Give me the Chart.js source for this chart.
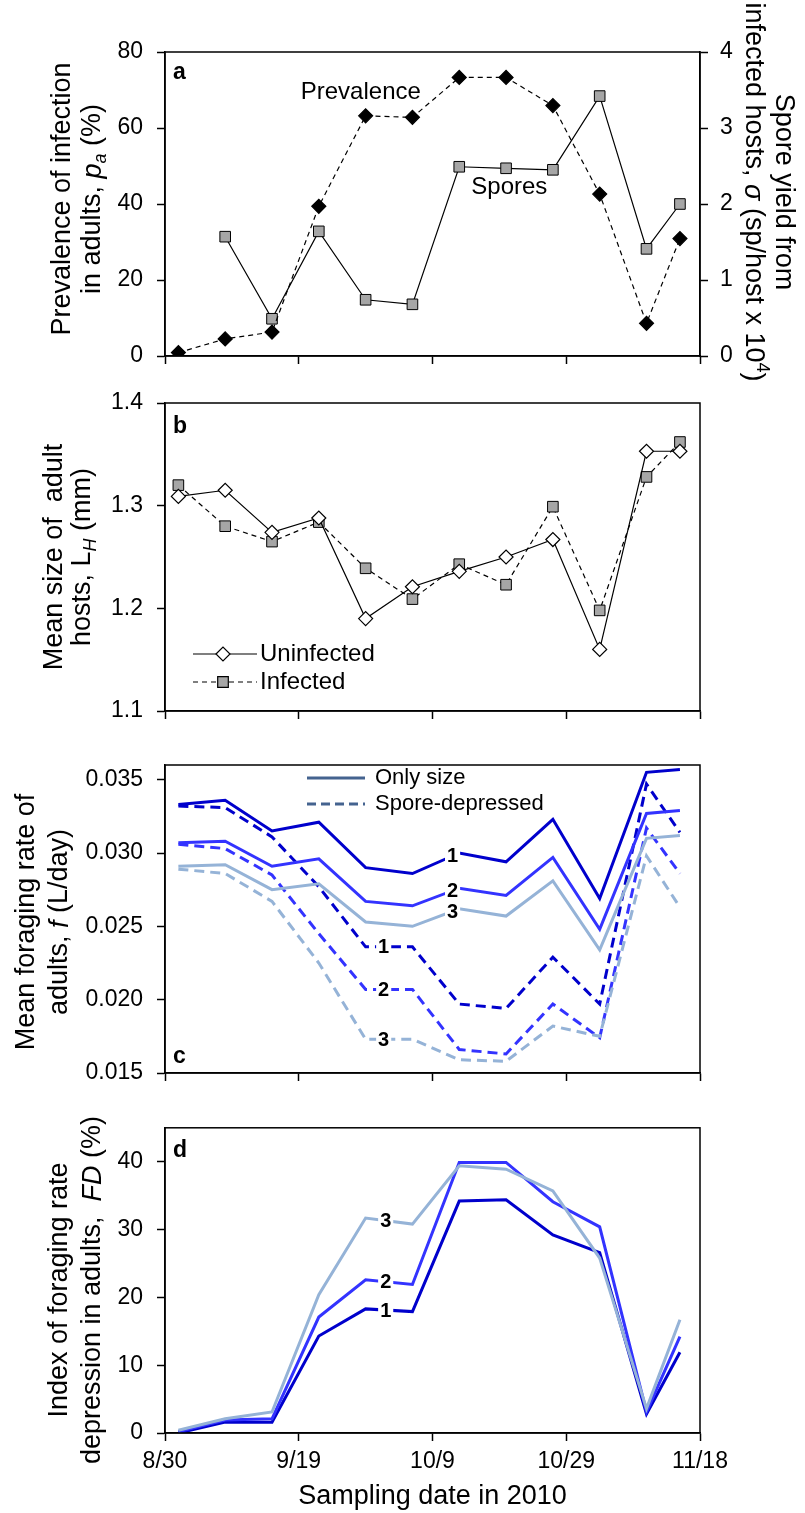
<!DOCTYPE html>
<html>
<head>
<meta charset="utf-8">
<script src="https://cdn.jsdelivr.net/npm/chart.js@4.4.1/dist/chart.umd.min.js"></script>
<style>
  body { margin: 0; background: #fff; width: 805px; height: 1513px; position: relative; overflow: hidden; }
  .panel { position: absolute; left: 0; width: 805px; }
  canvas { display: block; }
</style>
</head>
<body>
<div class="panel" style="top:0px;height:390px"><canvas id="chartA" width="805" height="390"></canvas></div>
<div class="panel" style="top:370px;height:370px"><canvas id="chartB" width="805" height="370"></canvas></div>
<div class="panel" style="top:730px;height:373px"><canvas id="chartC" width="805" height="373"></canvas></div>
<div class="panel" style="top:1100px;height:413px"><canvas id="chartD" width="805" height="413"></canvas></div>

<script>
// sampling dates, as days after 8/30/2010
const sampleDays = [2, 9, 16, 23, 30, 37, 44, 51, 58, 65, 72, 77];
const dateTicks = [0, 20, 40, 60, 80];
const dateLabels = ["8/30", "9/19", "10/9", "10/29", "11/18"];

// panel a
const prevalence = [0.9, 4.5, 6.3, 39.4, 63.2, 62.8, 73.3, 73.3, 65.9, 42.6, 8.6, 30.9];
const spores = [null, 1.57, 0.49, 1.64, 0.74, 0.68, 2.49, 2.47, 2.45, 3.42, 1.41, 2.0];
const prevTicks = [0, 20, 40, 60, 80];
const sporeTicks = [0, 1, 2, 3, 4];

// panel b
const uninfected = [1.309, 1.315, 1.274, 1.288, 1.190, 1.221, 1.236, 1.250, 1.267, 1.160, 1.353, 1.353];
const infected = [1.320, 1.280, 1.265, 1.284, 1.239, 1.209, 1.243, 1.223, 1.299, 1.198, 1.328, 1.362];
const sizeTicks = [1.1, 1.2, 1.3, 1.4];

// panel c
const onlySize1 = [0.0333, 0.0336, 0.0315, 0.0321, 0.0290, 0.0286, 0.0300, 0.0294, 0.0323, 0.0269, 0.0355, 0.0357];
const onlySize2 = [0.0307, 0.0308, 0.0291, 0.0296, 0.0267, 0.0264, 0.0276, 0.0271, 0.0297, 0.0248, 0.0327, 0.0329];
const onlySize3 = [0.0291, 0.0292, 0.0275, 0.0279, 0.0253, 0.0250, 0.0262, 0.0257, 0.0281, 0.0234, 0.0310, 0.0312];
const sporeDep1 = [0.0332, 0.0331, 0.0311, 0.0277, 0.0236, 0.0236, 0.0197, 0.0194, 0.0229, 0.0197, 0.0347, 0.0314];
const sporeDep2 = [0.0306, 0.0303, 0.0285, 0.0245, 0.0207, 0.0207, 0.0166, 0.0163, 0.0197, 0.0174, 0.0317, 0.0286];
const sporeDep3 = [0.0289, 0.0286, 0.0267, 0.0225, 0.0173, 0.0173, 0.0159, 0.0158, 0.0182, 0.0175, 0.0298, 0.0263];
const rateTicks = [0.015, 0.020, 0.025, 0.030, 0.035];

// panel d
const fd1 = [0, 1.6, 1.6, 14.3, 18.3, 17.9, 34.2, 34.4, 29.2, 26.6, 2.8, 11.9];
const fd2 = [0.2, 1.9, 2.1, 17.1, 22.6, 21.9, 39.9, 39.9, 34.1, 30.4, 3.1, 14.2];
const fd3 = [0.4, 2.1, 3.1, 20.4, 31.7, 30.8, 39.4, 38.9, 35.7, 25.8, 3.6, 16.7];
const fdTicks = [0, 10, 20, 30, 40];

const FONT = "'Liberation Sans', Arial, sans-serif";
const DARK = "#0000CC";
const MID = "#3333FF";
const LIGHT = "#95B3D7";
const LEGEND_BLUE = "#44638F";
const TICK_SIZE = 23;
const TITLE_SIZE = 27;

Chart.defaults.font.family = FONT;
Chart.defaults.color = "#000";
Chart.defaults.animation = false;
Chart.defaults.devicePixelRatio = 1;

function pts(arr) {
  return sampleDays.map((d, i) => ({ x: d, y: arr[i] }));
}

function valueAt(arr, day) {
  for (let i = 0; i < sampleDays.length - 1; i++) {
    if (day >= sampleDays[i] && day <= sampleDays[i + 1]) {
      const t = (day - sampleDays[i]) / (sampleDays[i + 1] - sampleDays[i]);
      return arr[i] + t * (arr[i + 1] - arr[i]);
    }
  }
  return arr[arr.length - 1];
}

// text with italic / sub / sup pieces, centred on (x, y)
function drawRich(ctx, parts, x, y, angle, size) {
  ctx.save();
  ctx.translate(x, y);
  ctx.rotate(angle);
  ctx.textBaseline = "middle";
  ctx.textAlign = "left";
  ctx.fillStyle = "#000";
  const items = parts.map(p => (typeof p === "string" ? { t: p } : p));
  const fontOf = p => (p.i ? "italic " : "") + ((p.sub || p.sup) ? Math.round(size * 0.68) : size) + "px " + FONT;
  let w = 0;
  items.forEach(p => { ctx.font = fontOf(p); w += ctx.measureText(p.t).width; });
  let cx = -w / 2;
  items.forEach(p => {
    ctx.font = fontOf(p);
    const dy = p.sub ? size * 0.28 : (p.sup ? -size * 0.32 : 0);
    ctx.fillText(p.t, cx, dy);
    cx += ctx.measureText(p.t).width;
  });
  ctx.restore();
}

function numberLabel(chart, arr, day, text) {
  const ctx = chart.ctx;
  const x = chart.scales.x.getPixelForValue(day);
  const y = chart.scales.y.getPixelForValue(valueAt(arr, day));
  ctx.save();
  ctx.font = "bold 20px " + FONT;
  ctx.textAlign = "center";
  ctx.textBaseline = "middle";
  const w = ctx.measureText(text).width;
  ctx.fillStyle = "#fff";
  ctx.fillRect(x - w / 2 - 2, y - 9, w + 4, 18);
  ctx.fillStyle = "#000";
  ctx.fillText(text, x, y + 1);
  ctx.restore();
}

function panelLetter(ctx, text, x, y) {
  ctx.save();
  ctx.font = "bold 23px " + FONT;
  ctx.fillStyle = "#000";
  ctx.textBaseline = "middle";
  ctx.fillText(text, x, y);
  ctx.restore();
}

function frame(chart) {
  const a = chart.chartArea;
  const ctx = chart.ctx;
  ctx.save();
  ctx.strokeStyle = "#000";
  ctx.lineWidth = 1.5;
  ctx.strokeRect(a.left, a.top, a.right - a.left, a.bottom - a.top);
  ctx.restore();
}

function xScale(showLabels, height) {
  return {
    type: "linear",
    min: 0,
    max: 80,
    afterBuildTicks: s => { s.ticks = dateTicks.map(v => ({ value: v })); },
    afterFit: s => { s.height = height; },
    ticks: {
      display: showLabels,
      font: { size: TICK_SIZE },
      padding: 7,
      maxRotation: 0,
      callback: (v, i) => dateLabels[i]
    },
    grid: { drawOnChartArea: false, tickLength: 8, tickColor: "#000", tickWidth: 1.5 },
    border: { display: true, color: "#000", width: 1.5 }
  };
}

function yScale(min, max, tickVals, digits, width, position) {
  return {
    type: "linear",
    position: position || "left",
    min: min,
    max: max,
    afterBuildTicks: s => { s.ticks = tickVals.map(v => ({ value: v })); },
    afterFit: s => { s.width = width; },
    ticks: {
      font: { size: TICK_SIZE },
      padding: position === "right" ? 12 : 14,
      callback: v => v.toFixed(digits)
    },
    grid: { drawOnChartArea: false, tickLength: 8, tickColor: "#000", tickWidth: 1.5 },
    border: { display: true, color: "#000", width: 1.5 }
  };
}

function lineSet(arr, color, dashed) {
  return {
    data: pts(arr),
    borderColor: color,
    borderWidth: 3,
    borderDash: dashed ? [10, 6] : [],
    pointRadius: 0,
    tension: 0,
    fill: false
  };
}

const baseOptions = (padTop, padRight) => ({
  responsive: false,
  animation: false,
  layout: { padding: { top: padTop, right: padRight, bottom: 0, left: 0 } },
  plugins: { legend: { display: false }, tooltip: { enabled: false } }
});

// ---------- panel a ----------
new Chart(document.getElementById("chartA"), {
  type: "line",
  data: {
    datasets: [
      {
        label: "Prevalence",
        data: pts(prevalence),
        yAxisID: "y",
        borderColor: "#000",
        borderWidth: 1.2,
        borderDash: [5, 4],
        pointStyle: "rectRot",
        pointRadius: 7,
        pointBackgroundColor: "#000",
        pointBorderColor: "#000",
        tension: 0
      },
      {
        label: "Spores",
        data: pts(spores),
        yAxisID: "y2",
        borderColor: "#000",
        borderWidth: 1.2,
        pointStyle: "rect",
        pointRadius: 7.5,
        pointBackgroundColor: "#A6A6A6",
        pointBorderColor: "#000",
        pointBorderWidth: 1,
        tension: 0
      }
    ]
  },
  options: Object.assign(baseOptions(52, 0), {
    scales: {
      x: xScale(false, 34),
      y: yScale(0, 80, prevTicks, 0, 165, "left"),
      y2: yScale(0, 4, sporeTicks, 0, 105, "right")
    }
  }),
  plugins: [{
    id: "panelA",
    afterDatasetsDraw(chart) {
      const ctx = chart.ctx;
      const x = chart.scales.x, y = chart.scales.y;
      ctx.save();
      ctx.font = "24px " + FONT;
      ctx.fillStyle = "#000";
      ctx.textBaseline = "middle";
      ctx.fillText("Prevalence", x.getPixelForValue(20.3), y.getPixelForValue(69.5));
      ctx.fillText("Spores", x.getPixelForValue(45.8), y.getPixelForValue(44.5));
      ctx.restore();
    },
    afterDraw(chart) {
      const a = chart.chartArea;
      frame(chart);
      panelLetter(chart.ctx, "a", a.left + 8, a.top + 21);
      drawRich(chart.ctx, ["Prevalence of infection"], 63, 199, -Math.PI / 2, TITLE_SIZE);
      drawRich(chart.ctx, ["in adults, ", { t: "p", i: true }, { t: "a", i: true, sub: true }, " (%)"], 93, 199, -Math.PI / 2, TITLE_SIZE);
      drawRich(chart.ctx, ["Spore yield from"], 783, 192, Math.PI / 2, TITLE_SIZE);
      drawRich(chart.ctx, ["infected hosts, ", { t: "σ", i: true }, " (sp/host x 10", { t: "4", sup: true }, ")"], 753, 192, Math.PI / 2, TITLE_SIZE);
    }
  }]
});

// ---------- panel b ----------
new Chart(document.getElementById("chartB"), {
  type: "line",
  data: {
    datasets: [
      {
        label: "Uninfected",
        data: pts(uninfected),
        borderColor: "#000",
        borderWidth: 1.2,
        pointStyle: "rectRot",
        pointRadius: 7,
        pointBackgroundColor: "#fff",
        pointBorderColor: "#000",
        pointBorderWidth: 1.2,
        tension: 0
      },
      {
        label: "Infected",
        data: pts(infected),
        borderColor: "#000",
        borderWidth: 1.2,
        borderDash: [5, 4],
        pointStyle: "rect",
        pointRadius: 7.5,
        pointBackgroundColor: "#A6A6A6",
        pointBorderColor: "#000",
        pointBorderWidth: 1,
        tension: 0
      }
    ]
  },
  options: Object.assign(baseOptions(33, 105), {
    scales: {
      x: xScale(false, 29),
      y: yScale(1.1, 1.4, sizeTicks, 1, 165, "left")
    }
  }),
  plugins: [{
    id: "panelB",
    afterDraw(chart) {
      const ctx = chart.ctx;
      const a = chart.chartArea;
      frame(chart);
      panelLetter(ctx, "b", a.left + 8, a.top + 24);
      // legend
      const rows = [
        { text: "Uninfected", dash: [], style: "rectRot", r: 7, fill: "#fff", y: a.bottom - 57 },
        { text: "Infected", dash: [5, 4], style: "rect", r: 7.5, fill: "#A6A6A6", y: a.bottom - 29 }
      ];
      rows.forEach(row => {
        ctx.save();
        ctx.strokeStyle = "#000";
        ctx.lineWidth = 1.2;
        ctx.setLineDash(row.dash);
        ctx.beginPath();
        ctx.moveTo(a.left + 28, row.y);
        ctx.lineTo(a.left + 92, row.y);
        ctx.stroke();
        ctx.setLineDash([]);
        ctx.fillStyle = row.fill;
        ctx.lineWidth = 1.2;
        Chart.helpers.drawPoint(ctx, { pointStyle: row.style, radius: row.r, rotation: 0, borderWidth: 1.2 }, a.left + 58, row.y);
        ctx.font = "24px " + FONT;
        ctx.fillStyle = "#000";
        ctx.textBaseline = "middle";
        ctx.fillText(row.text, a.left + 95, row.y);
        ctx.restore();
      });
      drawRich(ctx, ["Mean size of  adult"], 55, 557 - 370, -Math.PI / 2, TITLE_SIZE);
      drawRich(ctx, ["hosts, L", { t: "H", i: true, sub: true }, " (mm)"], 83, 557 - 370, -Math.PI / 2, TITLE_SIZE);
    }
  }]
});

// ---------- panel c ----------
new Chart(document.getElementById("chartC"), {
  type: "line",
  data: {
    datasets: [
      lineSet(onlySize3, LIGHT, false),
      lineSet(onlySize2, MID, false),
      lineSet(onlySize1, DARK, false),
      lineSet(sporeDep3, LIGHT, true),
      lineSet(sporeDep2, MID, true),
      lineSet(sporeDep1, DARK, true)
    ]
  },
  options: Object.assign(baseOptions(35, 105), {
    scales: {
      x: xScale(false, 30),
      y: yScale(0.015, 0.036, rateTicks, 3, 165, "left")
    }
  }),
  plugins: [{
    id: "panelC",
    afterDatasetsDraw(chart) {
      numberLabel(chart, onlySize1, 43, "1");
      numberLabel(chart, onlySize2, 43, "2");
      numberLabel(chart, onlySize3, 43, "3");
      numberLabel(chart, sporeDep1, 32.7, "1");
      numberLabel(chart, sporeDep2, 32.7, "2");
      numberLabel(chart, sporeDep3, 32.7, "3");
    },
    afterDraw(chart) {
      const ctx = chart.ctx;
      const a = chart.chartArea;
      frame(chart);
      panelLetter(ctx, "c", a.left + 8, a.bottom - 16);
      // legend
      [["Only size", []], ["Spore-depressed", [9, 5]]].forEach((row, i) => {
        const y = a.top + 13 + i * 26;
        ctx.save();
        ctx.strokeStyle = LEGEND_BLUE;
        ctx.lineWidth = 3;
        ctx.setLineDash(row[1]);
        ctx.beginPath();
        ctx.moveTo(a.left + 142, y);
        ctx.lineTo(a.left + 200, y);
        ctx.stroke();
        ctx.font = "22px " + FONT;
        ctx.fillStyle = "#000";
        ctx.textBaseline = "middle";
        ctx.fillText(row[0], a.left + 210, y);
        ctx.restore();
      });
      drawRich(ctx, ["Mean foraging rate of"], 27, 192, -Math.PI / 2, TITLE_SIZE);
      drawRich(ctx, ["adults, ", { t: "f", i: true }, " (L/day)"], 60, 192, -Math.PI / 2, TITLE_SIZE);
    }
  }]
});

// ---------- panel d ----------
new Chart(document.getElementById("chartD"), {
  type: "line",
  data: {
    datasets: [
      lineSet(fd3, LIGHT, false),
      lineSet(fd2, MID, false),
      lineSet(fd1, DARK, false)
    ]
  },
  options: Object.assign(baseOptions(25, 105), {
    scales: {
      x: xScale(true, 80),
      y: yScale(0, 45, fdTicks, 0, 165, "left")
    }
  }),
  plugins: [{
    id: "panelD",
    afterDatasetsDraw(chart) {
      numberLabel(chart, fd3, 33, "3");
      numberLabel(chart, fd2, 33, "2");
      numberLabel(chart, fd1, 33, "1");
    },
    afterDraw(chart) {
      const ctx = chart.ctx;
      const a = chart.chartArea;
      frame(chart);
      panelLetter(ctx, "d", a.left + 8, a.top + 23);
      drawRich(ctx, ["Index of foraging rate"], 60, 190, -Math.PI / 2, TITLE_SIZE);
      drawRich(ctx, ["depression in adults,  ", { t: "FD", i: true }, " (%)"], 93, 190, -Math.PI / 2, TITLE_SIZE);
      drawRich(ctx, ["Sampling date in 2010"], (a.left + a.right) / 2, 397, 0, TITLE_SIZE);
    }
  }]
});
</script>
</body>
</html>
